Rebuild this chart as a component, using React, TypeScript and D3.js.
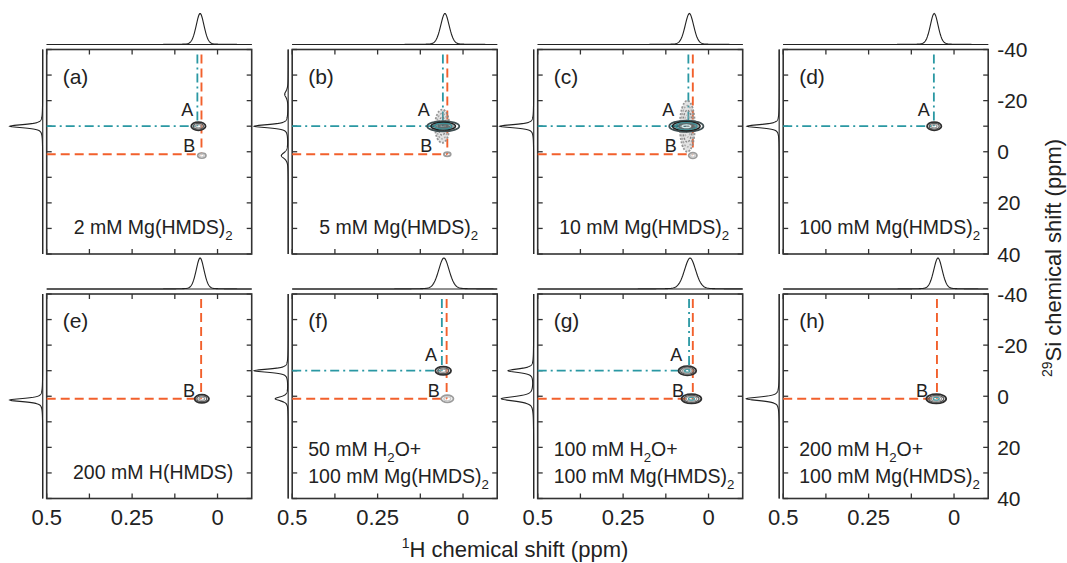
import React from "react";
import * as d3 from "d3";

const W = 1067;
const H = 563;
const FONT = "'Liberation Sans', Arial, Helvetica, sans-serif";

// ---- panel annotations ----
const panelNames = ["(a)", "(b)", "(c)", "(d)", "(e)", "(f)", "(g)", "(h)"];
const sampleLines: string[][] = [
  ["2 mM Mg(HMDS)_2"],
  ["5 mM Mg(HMDS)_2"],
  ["10 mM Mg(HMDS)_2"],
  ["100 mM Mg(HMDS)_2"],
  ["200 mM H(HMDS)"],
  ["50 mM H_2O+", "100 mM Mg(HMDS)_2"],
  ["100 mM H_2O+", "100 mM Mg(HMDS)_2"],
  ["200 mM H_2O+", "100 mM Mg(HMDS)_2"],
];

// ---- cross-peak sites (1H ppm, 29Si ppm); null where the species is absent ----
const siteA_H: (number | null)[] = [0.059, 0.059, 0.059, 0.059, null, 0.062, 0.057, null];
const siteA_Si: (number | null)[] = [-10, -10, -10, -10, null, -10, -10, null];
const siteB_H: (number | null)[] = [0.047, 0.046, 0.046, null, 0.048, 0.048, 0.046, 0.05];
const siteB_Si: (number | null)[] = [1, 1, 1, null, 1, 1, 1, 1];

// ---- 2D contour peaks: centre, half-widths (ppm), ring count, tone ----
type Tone = "dark" | "light" | "teal" | "haze";
const contourPanel = [0, 0, 1, 1, 1, 2, 2, 2, 3, 4, 5, 5, 6, 6, 7];
const contourH = [0.056, 0.046, 0.061, 0.058, 0.046, 0.062, 0.065, 0.046, 0.058, 0.046, 0.058, 0.046, 0.062, 0.05, 0.052];
const contourSi = [-10, 1.5, -10, -10, 1, -10, -10, 1.5, -10, 1, -10, 1, -10, 1, 1];
const contourRxH = [0.021, 0.012, 0.021, 0.047, 0.01, 0.022, 0.05, 0.012, 0.021, 0.021, 0.023, 0.018, 0.026, 0.029, 0.029];
const contourRySi = [1.6, 1.0, 6.5, 2.0, 0.8, 10, 2.2, 1.1, 1.6, 1.6, 1.6, 1.4, 1.8, 1.8, 1.8];
const contourRings = [3, 2, 4, 4, 1, 5, 5, 2, 3, 3, 3, 2, 4, 4, 4];
const contourTone: Tone[] = ["dark", "light", "haze", "teal", "light", "haze", "teal", "light", "dark", "dark", "dark", "light", "dark", "dark", "dark"];

// ---- 1H projections (top): centre and Gaussian width (ppm) ----
const hProjCenter = [0.051, 0.053, 0.056, 0.058, 0.051, 0.056, 0.054, 0.047];
const hProjWidth = [0.012, 0.013, 0.013, 0.012, 0.012, 0.016, 0.017, 0.013];

// ---- 29Si projections (left): [shift, relative intensity, half-width] ----
const siProjPeaks: [number, number, number][][] = [
  [[-10, 0.97, 0.7]],
  [[-10, 1.0, 0.7], [-22.5, 0.1, 1.5], [1.5, 0.2, 1.3]],
  [[-10, 1.0, 0.7]],
  [[-10, 0.95, 0.7]],
  [[1.5, 0.97, 0.7]],
  [[-10, 1.0, 0.7], [1, 0.38, 0.9]],
  [[-10, 0.75, 0.8], [1, 0.95, 1.0]],
  [[1, 0.97, 0.8]],
];

// ---- axes ----
const hDomain: [number, number] = [0.5, -0.1];
const siDomain: [number, number] = [-40, 40];
const hTicks = [0.5, 0.375, 0.25, 0.125, 0];
const hLabels = [0.5, 0.25, 0];
const siTicks = [-40, -30, -20, -10, 0, 10, 20, 30, 40];
const siLabels = [-40, -20, 0, 20, 40];

// ---- layout ----
const colLeft = [46.7, 292.2, 537.7, 783.2];
const rowTop = [49.5, 294];
const PW = 205;
const PH = 204.5;

const CYAN = "#2a98a3";
const ORANGE = "#f2602c";
const INK = "#222";

const tonePalette: Record<Tone, string[]> = {
  dark: ["#2e2e2e", "#5a5a5a", "#9a9a9a", "#4d9da3"],
  light: ["#9c9c9c", "#c9c9c9"],
  teal: ["#3f4f52", "#1f1f1f", "#3c8f96", "#5e6e70", "#d5eaec"],
  haze: ["#8a8a8a", "#a0a0a0", "#7a7a7a", "#b0b0b0", "#909090"],
};

function pseudoVoigt(x: number, c: number, w: number, gFrac: number) {
  const d = (x - c) / w;
  return gFrac * Math.exp(-0.5 * d * d) + (1 - gFrac) / (1 + d * d);
}

function rich(s: string, size: number) {
  const parts = s.split("_");
  const out: React.ReactNode[] = [<tspan key="p0">{parts[0]}</tspan>];
  parts.slice(1).forEach((p, i) => {
    out.push(
      <tspan key={"s" + i} dy={size * 0.33} fontSize={size * 0.68}>
        {p[0]}
      </tspan>
    );
    if (p.length > 1) {
      out.push(
        <tspan key={"r" + i} dy={-size * 0.33} fontSize={size}>
          {p.slice(1)}
        </tspan>
      );
    }
  });
  return out;
}

const hGrid = d3.range(0.5, -0.1001, -0.002);
const siGrid = d3.range(-40, 40.0001, 0.1);

function Panel({ idx }: { idx: number }) {
  const col = idx % 4;
  const row = Math.floor(idx / 4);
  const left = colLeft[col];
  const top = rowTop[row];
  const right = left + PW;
  const bottom = top + PH;
  const x = d3.scaleLinear().domain(hDomain).range([left, right]);
  const y = d3.scaleLinear().domain(siDomain).range([top, bottom]);
  const topProj = d3.scaleLinear().domain([0, 1]).range([0, 31]);
  const leftProj = d3.scaleLinear().domain([0, 1]).range([0, 34]);
  const topBase = top - 5;
  const leftBase = left - 4;

  const hLine = d3
    .line<number>()
    .x((h) => x(h))
    .y((h) => topBase - topProj(pseudoVoigt(h, hProjCenter[idx], hProjWidth[idx], 0.8)));
  const siLine = d3
    .line<number>()
    .x((s) => leftBase - leftProj(d3.sum(siProjPeaks[idx], ([c, a, w]) => a * pseudoVoigt(s, c, w, 0.3))))
    .y((s) => y(s));

  const tick = 5;
  const contourIdx = contourPanel.map((p, i) => (p === idx ? i : -1)).filter((i) => i >= 0);
  const solidIdx = contourIdx.filter((i) => contourTone[i] !== "haze");
  const maxRxPx = d3.max(solidIdx, (i) => Math.abs(x(contourH[i] + contourRxH[i]) - x(contourH[i]))) || 7;
  const gapA = Math.max(4, maxRxPx - 3);
  const gapB = Math.max(6, maxRxPx - 1);

  const aH = siteA_H[idx];
  const aS = siteA_Si[idx];
  const bH = siteB_H[idx];
  const bS = siteB_Si[idx];
  const lineStart = -38;

  const lines = sampleLines[idx];
  const textSize = 19.5;

  return (
    <g>
      {/* projections */}
      <line x1={left} x2={right} y1={topBase} y2={topBase} stroke={INK} strokeWidth={1.1} />
      <path d={hLine(hGrid) || ""} fill="none" stroke={INK} strokeWidth={1.1} />
      <line x1={leftBase} x2={leftBase} y1={top} y2={bottom} stroke="#444" strokeWidth={1.3} />
      <path d={siLine(siGrid) || ""} fill="none" stroke={INK} strokeWidth={1.1} />

      {/* frame and inward ticks */}
      <rect x={left} y={top} width={PW} height={PH} fill="none" stroke="#333" strokeWidth={1.6} />
      {hTicks.map((t) => (
        <g key={"h" + t}>
          <line x1={x(t)} x2={x(t)} y1={top} y2={top + tick} stroke="#333" strokeWidth={1.3} />
          <line x1={x(t)} x2={x(t)} y1={bottom} y2={bottom - tick} stroke="#333" strokeWidth={1.3} />
        </g>
      ))}
      {siTicks.map((t) => (
        <g key={"s" + t}>
          <line x1={left} x2={left + tick} y1={y(t)} y2={y(t)} stroke="#333" strokeWidth={1.3} />
          <line x1={right} x2={right - tick} y1={y(t)} y2={y(t)} stroke="#333" strokeWidth={1.3} />
        </g>
      ))}

      {/* assignment lines */}
      {aH !== null && aS !== null && (
        <g stroke={CYAN} strokeWidth={1.8} strokeDasharray="9 4 2 4" fill="none">
          <line x1={x(0.5)} x2={x(aH)} y1={y(aS)} y2={y(aS)} />
          <line x1={x(aH)} x2={x(aH)} y1={y(lineStart)} y2={y(aS)} />
        </g>
      )}
      {bH !== null && bS !== null && (
        <g stroke={ORANGE} strokeWidth={1.9} strokeDasharray="9 5" fill="none">
          <line x1={x(0.5)} x2={x(bH)} y1={y(bS)} y2={y(bS)} />
          <line x1={x(bH)} x2={x(bH)} y1={y(lineStart)} y2={y(bS)} />
        </g>
      )}

      {/* contours */}
      {contourIdx.map((ci) => {
        const cx = x(contourH[ci]);
        const cy = y(contourSi[ci]);
        const rx = Math.abs(x(contourH[ci] + contourRxH[ci]) - cx);
        const ry = Math.abs(y(contourSi[ci] + contourRySi[ci]) - cy);
        const n = contourRings[ci];
        const tone = contourTone[ci];
        const pal = tonePalette[tone];
        return (
          <g key={"c" + ci}>
            {d3.range(n).map((k) => {
              const f = 1 - k / (n + 0.3);
              let fill = "none";
              let fillOpacity = 1;
              if (tone === "haze" && k === 0) {
                fill = "#9a9a9a";
                fillOpacity = 0.3;
              }
              if (tone === "teal" && k === 1) {
                fill = "#2c3c3e";
                fillOpacity = 0.45;
              }
              return (
                <ellipse
                  key={k}
                  cx={cx}
                  cy={cy}
                  rx={rx * f}
                  ry={ry * f}
                  fill={fill}
                  fillOpacity={fillOpacity}
                  stroke={pal[k % pal.length]}
                  strokeWidth={k === 0 ? 1.8 : 1.3}
                  strokeDasharray={tone === "haze" ? "2 1.5" : undefined}
                  opacity={tone === "haze" ? 0.9 : 1}
                />
              );
            })}
          </g>
        );
      })}

      {/* site labels */}
      {aH !== null && aS !== null && (
        <text x={x(aH) - gapA} y={y(aS) - 10} textAnchor="end" fontSize={18} fontFamily={FONT} fill={INK}>
          A
        </text>
      )}
      {bH !== null && bS !== null && (
        <text x={x(bH) - gapB} y={y(bS) - 2} textAnchor="end" fontSize={18} fontFamily={FONT} fill={INK}>
          B
        </text>
      )}

      {/* panel tag and sample description */}
      <text x={left + 16} y={top + 34} fontSize={21} fontFamily={FONT} fill={INK}>
        {panelNames[idx]}
      </text>
      {lines.length === 1 ? (
        <text x={(left + right) / 2 + 4} y={bottom - 20} textAnchor="middle" fontSize={textSize} fontFamily={FONT} fill={INK}>
          {rich(lines[0], textSize)}
        </text>
      ) : (
        lines.map((ln, k) => (
          <text key={k} x={left + 16} y={bottom - 43 + k * 27} fontSize={textSize} fontFamily={FONT} fill={INK}>
            {rich(ln, textSize)}
          </text>
        ))
      )}

      {/* axis labels on outer panels */}
      {row === 1 &&
        hLabels.map((v) => (
          <text key={"hl" + v} x={x(v)} y={525} textAnchor="middle" fontSize={22} fontFamily={FONT} fill={INK}>
            {String(v)}
          </text>
        ))}
      {col === 3 &&
        siLabels.map((v) => (
          <text key={"sl" + v} x={right + 9} y={y(v) + 7.5} fontSize={21} fontFamily={FONT} fill={INK}>
            {String(v)}
          </text>
        ))}
    </g>
  );
}

export default function App() {
  return (
    <svg
      width={W}
      height={H}
      viewBox={`0 0 ${W} ${H}`}
      style={{ position: "absolute", left: 0, top: 0, display: "block", background: "#fff" }}
    >
      <rect x={0} y={0} width={W} height={H} fill="#fff" />
      {d3.range(8).map((i) => (
        <Panel key={i} idx={i} />
      ))}
      <text x={515} y={557} textAnchor="middle" fontSize={22} fontFamily={FONT} fill={INK}>
        <tspan fontSize={14} dy={-9}>1</tspan>
        <tspan dy={9}>H chemical shift (ppm)</tspan>
      </text>
      <text
        transform="translate(1061,258) rotate(-90)"
        textAnchor="middle"
        fontSize={22}
        fontFamily={FONT}
        fill={INK}
      >
        <tspan fontSize={14} dy={-9}>29</tspan>
        <tspan dy={9}>Si chemical shift (ppm)</tspan>
      </text>
    </svg>
  );
}
